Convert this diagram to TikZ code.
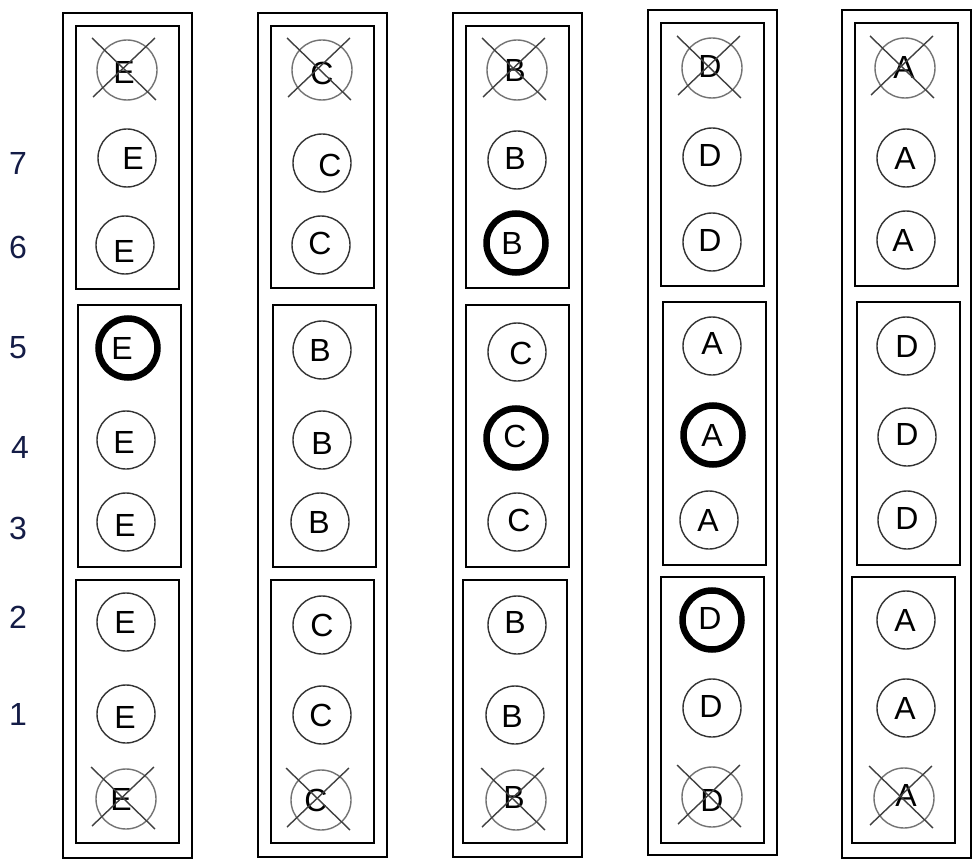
\documentclass[tikz,border=0pt]{standalone}
\usepackage{fontspec}
\setmainfont{Liberation Sans}
\definecolor{numcol}{RGB}{20,28,70}
\begin{document}
\begin{tikzpicture}[x=1pt,y=-1pt,
  frame/.style={draw=black,line width=2.4pt},
  bubble/.style={circle,draw=black!80,line width=1.4pt,minimum size=58pt,inner sep=0pt},
  boldbubble/.style={circle,draw=black,line width=6.5pt,minimum size=59pt,inner sep=0pt},
  gonebubble/.style={circle,draw=black!55,line width=1.4pt,minimum size=60pt,inner sep=0pt},
  letter/.style={inner sep=0pt,font=\fontsize{32}{32}\selectfont,text=black},
  rowlab/.style={inner sep=0pt,font=\fontsize{32}{32}\selectfont,text=numcol},
  crossline/.style={draw=black!75,line width=1.4pt}]
\useasboundingbox (0,0) rectangle (972,861);
\fill[white] (0,0) rectangle (972,861);

% row labels
\node[rowlab] (r7) at (18,163) {7};
\node[rowlab] (r6) at (18,247) {6};
\node[rowlab] (r5) at (18,348) {5};
\node[rowlab] (r4) at (20,447) {4};
\node[rowlab] (r3) at (18,528) {3};
\node[rowlab] (r2) at (18,617) {2};
\node[rowlab] (r1) at (18,714) {1};

% outer frames
\draw[frame] (63,13) rectangle (192,858);
\draw[frame] (258,13) rectangle (387,857);
\draw[frame] (453,13) rectangle (582,857);
\draw[frame] (648,10) rectangle (777,855);
\draw[frame] (842,10) rectangle (971,858);

% inner frames
\draw[frame] (76,26) rectangle (179,289);
\draw[frame] (78,305) rectangle (181,567);
\draw[frame] (76,580) rectangle (179,843);
\draw[frame] (271,26) rectangle (374,288);
\draw[frame] (273,305) rectangle (376,567);
\draw[frame] (271,580) rectangle (374,843);
\draw[frame] (466,26) rectangle (569,288);
\draw[frame] (466,305) rectangle (569,567);
\draw[frame] (463,580) rectangle (567,843);
\draw[frame] (661,23) rectangle (764,286);
\draw[frame] (663,302) rectangle (766,565);
\draw[frame] (661,577) rectangle (764,843);
\draw[frame] (855,23) rectangle (958,286);
\draw[frame] (857,302) rectangle (960,565);
\draw[frame] (852,577) rectangle (955,843);

% \bub{name}{style}{x}{y}{letter}{dx}{dy}
\newcommand{\bub}[7]{%
  \node[#2] (#1) at (#3,#4) {};
  \node[letter] (#1t) at ([xshift=#6pt,yshift=-#7pt]#1.center) {#5};}
\newcommand{\gone}[6]{%
  \node[gonebubble] (#1) at (#2,#3) {};
  \node[letter] (#1t) at ([xshift=#5pt,yshift=-#6pt]#1.center) {#4};
  \draw[crossline] ([xshift=-35pt,yshift=32pt]#1.center) -- ([xshift=29pt,yshift=-30pt]#1.center);
  \draw[crossline] ([xshift=28pt,yshift=32pt]#1.center) -- ([xshift=-34pt,yshift=-27pt]#1.center);}

% column 1 (E)
\gone{a0}{127}{70}{E}{-3}{2}
\bub{a7}{bubble}{127}{158}{E}{6}{0}
\bub{a6}{bubble}{125}{245}{E}{-1}{6}
\bub{a5}{boldbubble}{128}{348}{E}{-6}{0}
\bub{a4}{bubble}{126}{440}{E}{-2}{2}
\bub{a3}{bubble}{126}{522}{E}{-1}{3}
\bub{a2}{bubble}{126}{622}{E}{-1}{0}
\bub{a1}{bubble}{126}{714}{E}{-1}{3}
\gone{a8}{126}{799}{E}{-5}{0}

% column 2
\gone{b0}{322}{70}{C}{0}{3}
\bub{b7}{bubble}{322}{163}{C}{8}{2}
\bub{b6}{bubble}{321}{245}{C}{-1}{-2}
\bub{b5}{bubble}{322}{350}{B}{-2}{0}
\bub{b4}{bubble}{322}{440}{B}{0}{3}
\bub{b3}{bubble}{320}{522}{B}{-1}{0}
\bub{b2}{bubble}{322}{625}{C}{0}{0}
\bub{b1}{bubble}{322}{715}{C}{-1}{0}
\gone{b8}{321}{800}{C}{-5}{0}

% column 3
\gone{c0}{517}{70}{B}{-2}{0}
\bub{c7}{bubble}{517}{160}{B}{-2}{-2}
\bub{c6}{boldbubble}{516}{243}{B}{-4}{0}
\bub{c5}{bubble}{517}{352}{C}{4}{1}
\bub{c4}{boldbubble}{516}{438}{C}{-1}{-2}
\bub{c3}{bubble}{517}{522}{C}{2}{-2}
\bub{c2}{bubble}{517}{625}{B}{-2}{-3}
\bub{c1}{bubble}{515}{715}{B}{-3}{1}
\gone{c8}{516}{800}{B}{-2}{-3}

% column 4
\gone{d0}{712}{68}{D}{-2}{-2}
\bub{d7}{bubble}{712}{157}{D}{-2}{-2}
\bub{d6}{bubble}{712}{242}{D}{-2}{-2}
\bub{d5}{bubble}{712}{346}{A}{0}{-3}
\bub{d4}{boldbubble}{713}{435}{A}{-1}{0}
\bub{d3}{bubble}{709}{520}{A}{-1}{0}
\bub{d2}{boldbubble}{712}{620}{D}{-2}{-2}
\bub{d1}{bubble}{712}{708}{D}{-1}{-2}
\gone{d8}{712}{797}{D}{0}{3}

% column 5
\gone{e0}{905}{68}{A}{-1}{-1}
\bub{e7}{bubble}{906}{158}{A}{-1}{0}
\bub{e6}{bubble}{906}{240}{A}{-3}{0}
\bub{e5}{bubble}{906}{346}{D}{1}{0}
\bub{e4}{bubble}{907}{437}{D}{0}{-3}
\bub{e3}{bubble}{907}{520}{D}{0}{-2}
\bub{e2}{bubble}{906}{620}{A}{-1}{0}
\bub{e1}{bubble}{906}{708}{A}{-1}{0}
\gone{e8}{904}{798}{A}{2}{-3}
\end{tikzpicture}
\end{document}
